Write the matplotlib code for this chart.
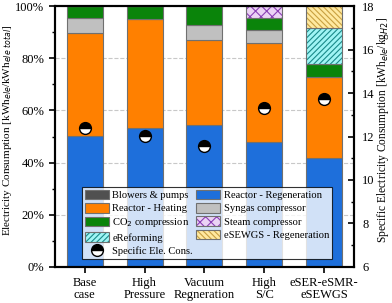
import matplotlib
matplotlib.use("Agg")
import matplotlib.pyplot as plt
from matplotlib.lines import Line2D
from matplotlib.ticker import MultipleLocator, PercentFormatter

plt.rcParams['font.family'] = ['Liberation Serif', 'DejaVu Serif']
plt.rcParams['hatch.linewidth'] = 0.8

cases = ["Base\ncase", "High\nPressure", "Vacuum\nRegneration", "High\nS/C", "eSER-eSMR-\neSEWGS"]

# shares of total electricity (%)
blowers = [0, 0, 0, 0, 0]
regeneration = [50.2, 53.4, 54.4, 47.9, 41.6]
heating = [39.6, 41.6, 32.6, 38.0, 31.3]
syngas = [5.5, 0, 5.9, 5.1, 0]
co2 = [4.7, 5.0, 7.1, 4.3, 4.8]
steam = [0, 0, 0, 4.7, 0]
ereforming = [0, 0, 0, 0, 13.7]
esewgs = [0, 0, 0, 0, 8.6]

# specific electricity consumption (kWh_ele/kg_H2)
specific = [12.40, 12.02, 11.58, 13.30, 13.72]

x = range(len(cases))
w = 0.6
edge = '#707070'

fig = plt.figure(figsize=(3.92, 3.03), dpi=100)
ax = fig.add_axes([0.140, 0.119, 0.763, 0.861])

series = [
    ("Blowers & pumps", blowers, '#505050', None, None),
    ("Reactor - Regeneration", regeneration, '#1E6FDB', None, None),
    ("Reactor - Heating", heating, '#FF8000', None, None),
    ("Syngas compressor", syngas, '#C0C0C0', None, None),
    ("CO$_2$ compression", co2, '#0A840A', None, None),
    ("Steam compressor", steam, '#EBD3F5', 'xxx', '#8A3FB5'),
    ("eReforming", ereforming, '#A0F5F5', '//////', '#1A8A8A'),
    ("eSEWGS - Regeneration", esewgs, '#FFE9A0', '\\\\\\\\\\\\', '#C8A040'),
]

bottom = [0.0] * len(cases)
handles = {}
for label, vals, fc, hatch, hc in series:
    if hatch:
        ax.bar(x, vals, w, bottom=bottom, color=fc, hatch=hatch, edgecolor=hc, linewidth=0)
        h = ax.bar(x, vals, w, bottom=bottom, fill=False, edgecolor=edge, linewidth=0.8)
        handles[label] = (ax.bar([0], [0], color=fc, hatch=hatch, edgecolor=hc, linewidth=0), h)
    else:
        h = ax.bar(x, vals, w, bottom=bottom, color=fc, edgecolor=edge, linewidth=0.8)
        handles[label] = h
    bottom = [b + v for b, v in zip(bottom, vals)]

ax.set_xlim(-0.5, len(cases) - 0.5)
ax.set_ylim(0, 100)
ax.yaxis.set_major_locator(MultipleLocator(20))
ax.yaxis.set_minor_locator(MultipleLocator(10))
ax.yaxis.set_major_formatter(PercentFormatter(decimals=0))
ax.set_xticks(list(x))
ax.set_xticklabels(cases, fontsize=9, linespacing=1.05)
ax.tick_params(axis='y', labelsize=9, direction='out', length=4, width=1.2)
ax.tick_params(axis='y', which='minor', direction='out', length=2.5, width=1)
ax.tick_params(axis='x', direction='out', length=4, width=1.2, pad=3)
ax.grid(axis='y', linestyle='--', color='#C8C8C8', linewidth=0.8)
ax.set_axisbelow(True)
ax.set_ylabel("Electricity Consumption [kWh$_{ele}$/kWh$_{ele\\ total}$]", fontsize=8)
ax.yaxis.set_label_coords(-0.137, 0.525)
for s in ax.spines.values():
    s.set_linewidth(1.5)

ax2 = ax.twinx()
ax2.set_ylim(6, 18)
ax2.yaxis.set_major_locator(MultipleLocator(2))
ax2.yaxis.set_minor_locator(MultipleLocator(1))
ax2.tick_params(axis='y', labelsize=9, direction='in', length=4, width=1.2, pad=6)
ax2.tick_params(axis='y', which='minor', direction='in', length=2.5, width=1)
ax2.plot(list(x), specific, linestyle='none', marker='o', markersize=8.5,
         fillstyle='top', markerfacecolor='black', markerfacecoloralt='white',
         markeredgecolor='black', markeredgewidth=1)
ax2.set_ylabel("Specific Electricity Consumption [kWh$_{ele}$/kg$_{H2}$]", fontsize=8.3)
ax2.yaxis.set_label_coords(1.071, 0.525)
for s in ax2.spines.values():
    s.set_linewidth(1.5)

spec_handle = Line2D([], [], linestyle='none', marker='o', markersize=8.5,
                     fillstyle='top', markerfacecolor='black', markerfacecoloralt='white',
                     markeredgecolor='black', markeredgewidth=1)

order = ["Blowers & pumps", "Reactor - Heating", "CO$_2$ compression", "eReforming", None,
         "Reactor - Regeneration", "Syngas compressor", "Steam compressor", "eSEWGS - Regeneration"]
hs, ls = [], []
for k in order:
    if k is None:
        hs.append(spec_handle)
        ls.append("Specific Ele. Cons.")
    else:
        hs.append(handles[k])
        ls.append(k)

leg = ax2.legend(hs, ls, ncol=2, loc='lower left', bbox_to_anchor=(0.09, 0.03),
                 fontsize=7.6, frameon=True, fancybox=False, edgecolor='black',
                 handlelength=2.3, handleheight=1.0, handletextpad=0.3,
                 columnspacing=0.3, labelspacing=0.28, borderpad=0.3, borderaxespad=0)
leg.get_frame().set_linewidth(0.8)

fig.savefig("out.png", dpi=100)
